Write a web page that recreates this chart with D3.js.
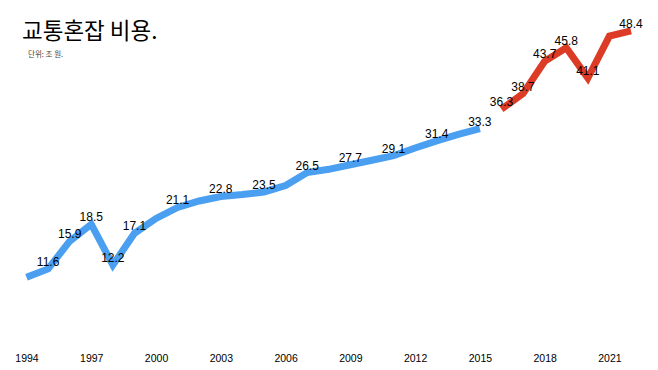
<!DOCTYPE html>
<html><head><meta charset="utf-8">
<script src="https://cdn.jsdelivr.net/npm/d3@7"></script>
<style>body{margin:0;background:#fff}svg{display:block}</style>
</head><body>
<script>
const years = d3.range(1994, 2023);
const values = [10.3, 11.6, 15.9, 18.5, 12.2, 17.1, 19.4, 21.1, 22.1, 22.8, 23.1, 23.5, 24.5, 26.5, 27.0, 27.7, 28.4, 29.1, 30.3, 31.4, 32.4, 33.3,
                36.3, 38.7, 43.7, 45.8, 41.1, 47.6, 48.4];
const labelled = [1995,1996,1997,1998,1999,2001,2003,2005,2007,2009,2011,2013,2015,2016,2017,2018,2019,2020,2022];
const tickYears = [1994,1997,2000,2003,2006,2009,2012,2015,2018,2021];
const title = "교통혼잡 비용.";
const subtitle = "단위: 조 원.";
const splitYear = 2016;

const W = 658, H = 370;
const svg = d3.select("body").append("svg").attr("width", W).attr("height", H);
const x = d3.scaleLinear().domain([1994, 2022]).range([26.5, 631]);
const y = d3.scaleLinear().domain([0, 50]).range([344, 20.5]);

svg.append("text").attr("x", 22).attr("y", 39).attr("font-family", "Noto Sans CJK KR")
  .attr("font-size", 22.5).attr("fill", "#000").text(title);
svg.append("text").attr("x", 28).attr("y", 57).attr("font-family", "Noto Sans CJK KR")
  .attr("font-size", 7.5).attr("fill", "#444").text(subtitle);

const data = years.map((yr, i) => ({yr, v: values[i]}));
const line = d3.line().x(d => x(d.yr)).y(d => y(d.v));
svg.append("path").datum(data.filter(d => d.yr < splitYear)).attr("d", line)
  .attr("fill", "none").attr("stroke", "#4a9ff0").attr("stroke-width", 7).attr("stroke-linejoin", "miter");
svg.append("path").datum(data.filter(d => d.yr >= splitYear)).attr("d", line)
  .attr("fill", "none").attr("stroke", "#dc3b25").attr("stroke-width", 7).attr("stroke-linejoin", "miter");

svg.selectAll("text.lab").data(data.filter(d => labelled.includes(d.yr))).join("text")
  .attr("class", "lab").attr("x", d => x(d.yr)).attr("y", d => y(d.v) - 3)
  .attr("text-anchor", "middle").attr("font-family", "Liberation Sans, Arial").attr("font-size", 12)
  .attr("fill", "#000").text(d => d.v.toFixed(1));

const xAxis = d3.axisBottom(x).tickValues(tickYears).tickFormat(d3.format("d")).tickSize(0);
const g = svg.append("g").attr("transform", "translate(0,352)").call(xAxis);
g.select(".domain").remove();
g.selectAll("text").attr("font-family", "Liberation Sans, Arial").attr("font-size", 10.5).attr("fill", "#000");
</script>
</body></html>
